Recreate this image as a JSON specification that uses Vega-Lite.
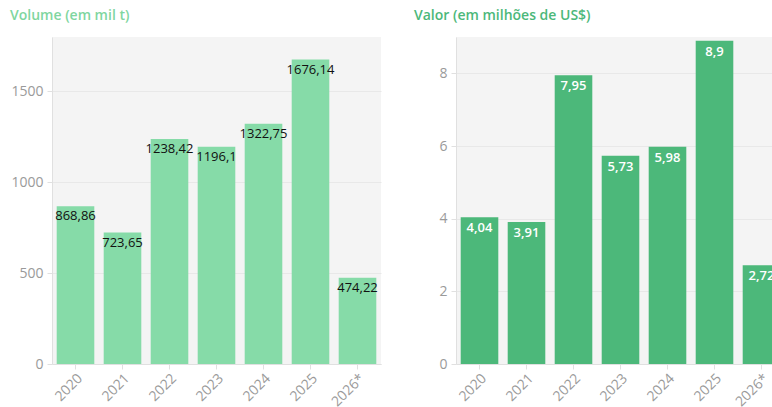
{
  "$schema": "https://vega.github.io/schema/vega-lite/v6.json",
  "padding": {"left": 10, "top": 9, "right": 0, "bottom": 0},
  "spacing": 33,
  "config": {
    "locale": {"number": {"decimal": ",", "thousands": ".", "grouping": [3], "currency": ["", ""]}},
    "font": "Open Sans",
    "view": {"fill": "#f4f4f4", "stroke": null},
    "axis": {
      "labelColor": "#9a9a9a", "labelFontSize": 14, "labelFont": "Open Sans",
      "domainColor": "#e0e0e0", "tickColor": "#e0e0e0", "gridColor": "#e8e8e8",
      "title": null
    },
    "title": {"anchor": "start", "frame": "group", "fontSize": 14, "fontWeight": 600, "font": "Open Sans", "dx": -42, "offset": 14}
  },
  "datasets": {
    "t": [
      {"ano": "2020", "volume": 868.86, "valor": 4.04},
      {"ano": "2021", "volume": 723.65, "valor": 3.91},
      {"ano": "2022", "volume": 1238.42, "valor": 7.95},
      {"ano": "2023", "volume": 1196.1, "valor": 5.73},
      {"ano": "2024", "volume": 1322.75, "valor": 5.98},
      {"ano": "2025", "volume": 1676.14, "valor": 8.9},
      {"ano": "2026*", "volume": 474.22, "valor": 2.72}
    ]
  },
  "hconcat": [
    {
      "width": 329, "height": 327,
      "title": {"text": "Volume (em mil t)", "color": "#7fd6a0"},
      "data": {"name": "t"},
      "encoding": {
        "x": {"field": "ano", "type": "nominal", "sort": null, "scale": {"paddingInner": 0.2, "paddingOuter": 0.1},
              "axis": {"labelAngle": -45, "grid": false, "ticks": true, "tickSize": 5}},
        "y": {"field": "volume", "type": "quantitative", "scale": {"domain": [0, 1800], "nice": false},
              "axis": {"values": [0, 500, 1000, 1500], "format": "d", "tickSize": 5, "labelPadding": 4}}
      },
      "layer": [
        {"mark": {"type": "bar", "color": "#86dba8"}},
        {"mark": {"type": "text", "baseline": "middle", "dy": 10, "fontSize": 13, "color": "#111111", "fontWeight": 500},
         "encoding": {"text": {"field": "volume", "type": "quantitative", "format": "~f"}}}
      ]
    },
    {
      "width": 329, "height": 327,
      "title": {"text": "Valor (em milhões de US$)", "color": "#4cb87a"},
      "data": {"name": "t"},
      "encoding": {
        "x": {"field": "ano", "type": "nominal", "sort": null, "scale": {"paddingInner": 0.2, "paddingOuter": 0.1},
              "axis": {"labelAngle": -45, "grid": false, "ticks": true, "tickSize": 5}},
        "y": {"field": "valor", "type": "quantitative", "scale": {"domain": [0, 9], "nice": false},
              "axis": {"values": [0, 2, 4, 6, 8], "format": "d", "tickSize": 5, "labelPadding": 4}}
      },
      "layer": [
        {"mark": {"type": "bar", "color": "#4cb87a"}},
        {"mark": {"type": "text", "baseline": "middle", "dy": 11, "fontSize": 13, "color": "#ffffff", "fontWeight": 600},
         "encoding": {"text": {"field": "valor", "type": "quantitative", "format": "~f"}}}
      ]
    }
  ]
}
